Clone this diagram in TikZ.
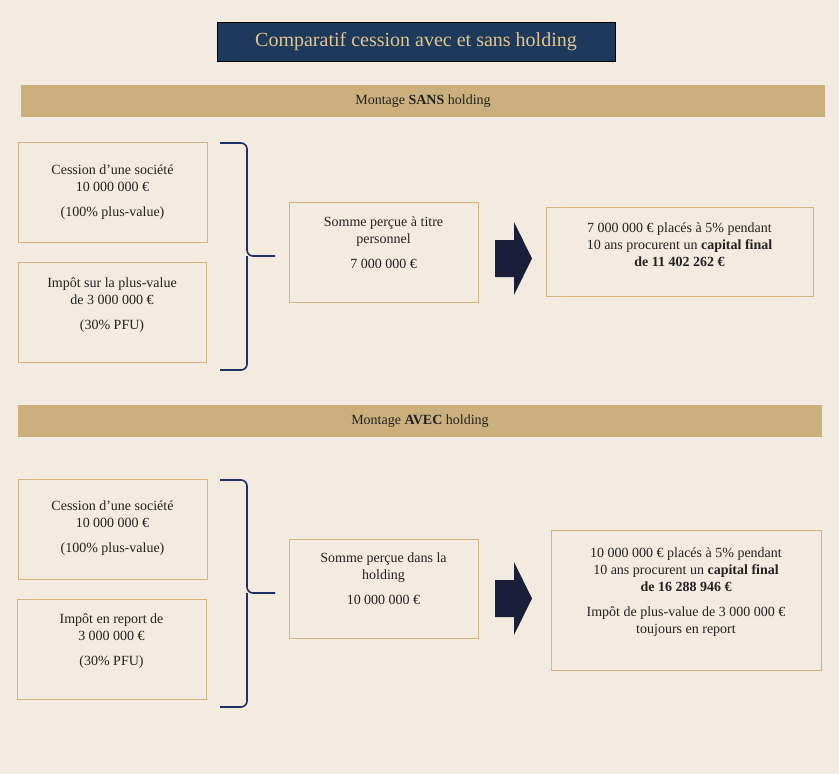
\documentclass[tikz,border=0pt]{standalone}
\usepackage{fontspec}
\setmainfont{Liberation Serif}
\definecolor{bg}{HTML}{F3EBE0}
\definecolor{navy}{HTML}{1D3A5C}
\definecolor{gold}{HTML}{CBB07E}
\definecolor{goldtxt}{HTML}{E2C58D}
\definecolor{edge}{HTML}{D6B47C}
\definecolor{brc}{HTML}{1E2F63}
\definecolor{arr}{HTML}{1A1E38}
\definecolor{ink}{HTML}{222222}
\begin{document}
\begin{tikzpicture}[x=1pt,y=-1pt,
  box/.style={draw=edge,line width=0.8pt,align=center,font=\fontsize{14}{17}\selectfont,text=ink},
  band/.style={fill=gold,font=\fontsize{14}{17}\selectfont,text=ink},
  brace/.style={draw=brc,line width=1.6pt,rounded corners=6pt},
  barrow/.style={fill=arr}]
\fill[bg] (0,0) rectangle (839,774);
\useasboundingbox (0,0) rectangle (839,774);
\node[draw=black,fill=navy,text=goldtxt,minimum width=398pt,minimum height=39pt,font=\fontsize{20}{24}\selectfont] (title) at (416,41.5) {Comparatif cession avec et sans holding};
% SANS
\fill[band] (21,85) rectangle (825,117);
\node[font=\fontsize{14}{17}\selectfont,text=ink] (b1) at (423,101) {Montage \textbf{SANS} holding};
\draw[draw=edge,line width=0.8pt] (18,142) rectangle (207,242);
\node[box,draw=none] (a1) at (112.5,192) {Cession d’une société\\10 000 000 €\\[8pt](100\% plus-value)};
\draw[draw=edge,line width=0.8pt] (18,262) rectangle (206,362);
\node[box,draw=none] (a2) at (112,305) {Impôt sur la plus-value\\de 3 000 000 €\\[8pt](30\% PFU)};
\draw[brace] (220,143) -- (247,143) -- (247,256) -- (275,256);
\draw[brace] (220,370) -- (247,370) -- (247,256);
\draw[draw=edge,line width=0.8pt] (289,202) rectangle (478,302);
\node[box,draw=none] (m1) at (383.5,243) {Somme perçue à titre\\personnel\\[8pt]7 000 000 €};
\fill[barrow] (495,240) -- (514,240) -- (514,222) -- (532,258.5) -- (514,295) -- (514,277) -- (495,277) -- cycle;
\draw[draw=edge,line width=0.8pt] (546,207) rectangle (813,296);
\node[box,draw=none] (r1) at (679.5,245) {7 000 000 € placés à 5\% pendant\\10 ans procurent un \textbf{capital final}\\\textbf{de 11 402 262 €}};
% AVEC
\fill[band] (18,405) rectangle (822,437);
\node[font=\fontsize{14}{17}\selectfont,text=ink] (b2) at (420,421) {Montage \textbf{AVEC} holding};
\draw[draw=edge,line width=0.8pt] (18,479) rectangle (207,579);
\node[box,draw=none] (c1) at (112.5,528) {Cession d’une société\\10 000 000 €\\[8pt](100\% plus-value)};
\draw[draw=edge,line width=0.8pt] (17,599) rectangle (206,699);
\node[box,draw=none] (c2) at (111.5,641) {Impôt en report de\\3 000 000 €\\[8pt](30\% PFU)};
\draw[brace] (220,480) -- (247,480) -- (247,593) -- (275,593);
\draw[brace] (220,707) -- (247,707) -- (247,593);
\draw[draw=edge,line width=0.8pt] (289,539) rectangle (478,638);
\node[box,draw=none] (m2) at (383.5,579) {Somme perçue dans la\\holding\\[8pt]10 000 000 €};
\fill[barrow] (495,580) -- (514,580) -- (514,562) -- (532,598.5) -- (514,635) -- (514,617) -- (495,617) -- cycle;
\draw[draw=edge,line width=0.8pt] (551,530) rectangle (821,670);
\node[box,draw=none] (r2) at (686,592) {10 000 000 € placés à 5\% pendant\\10 ans procurent un \textbf{capital final}\\\textbf{de 16 288 946 €}\\[8pt]Impôt de plus-value de 3 000 000 €\\toujours en report};
\end{tikzpicture}
\end{document}
